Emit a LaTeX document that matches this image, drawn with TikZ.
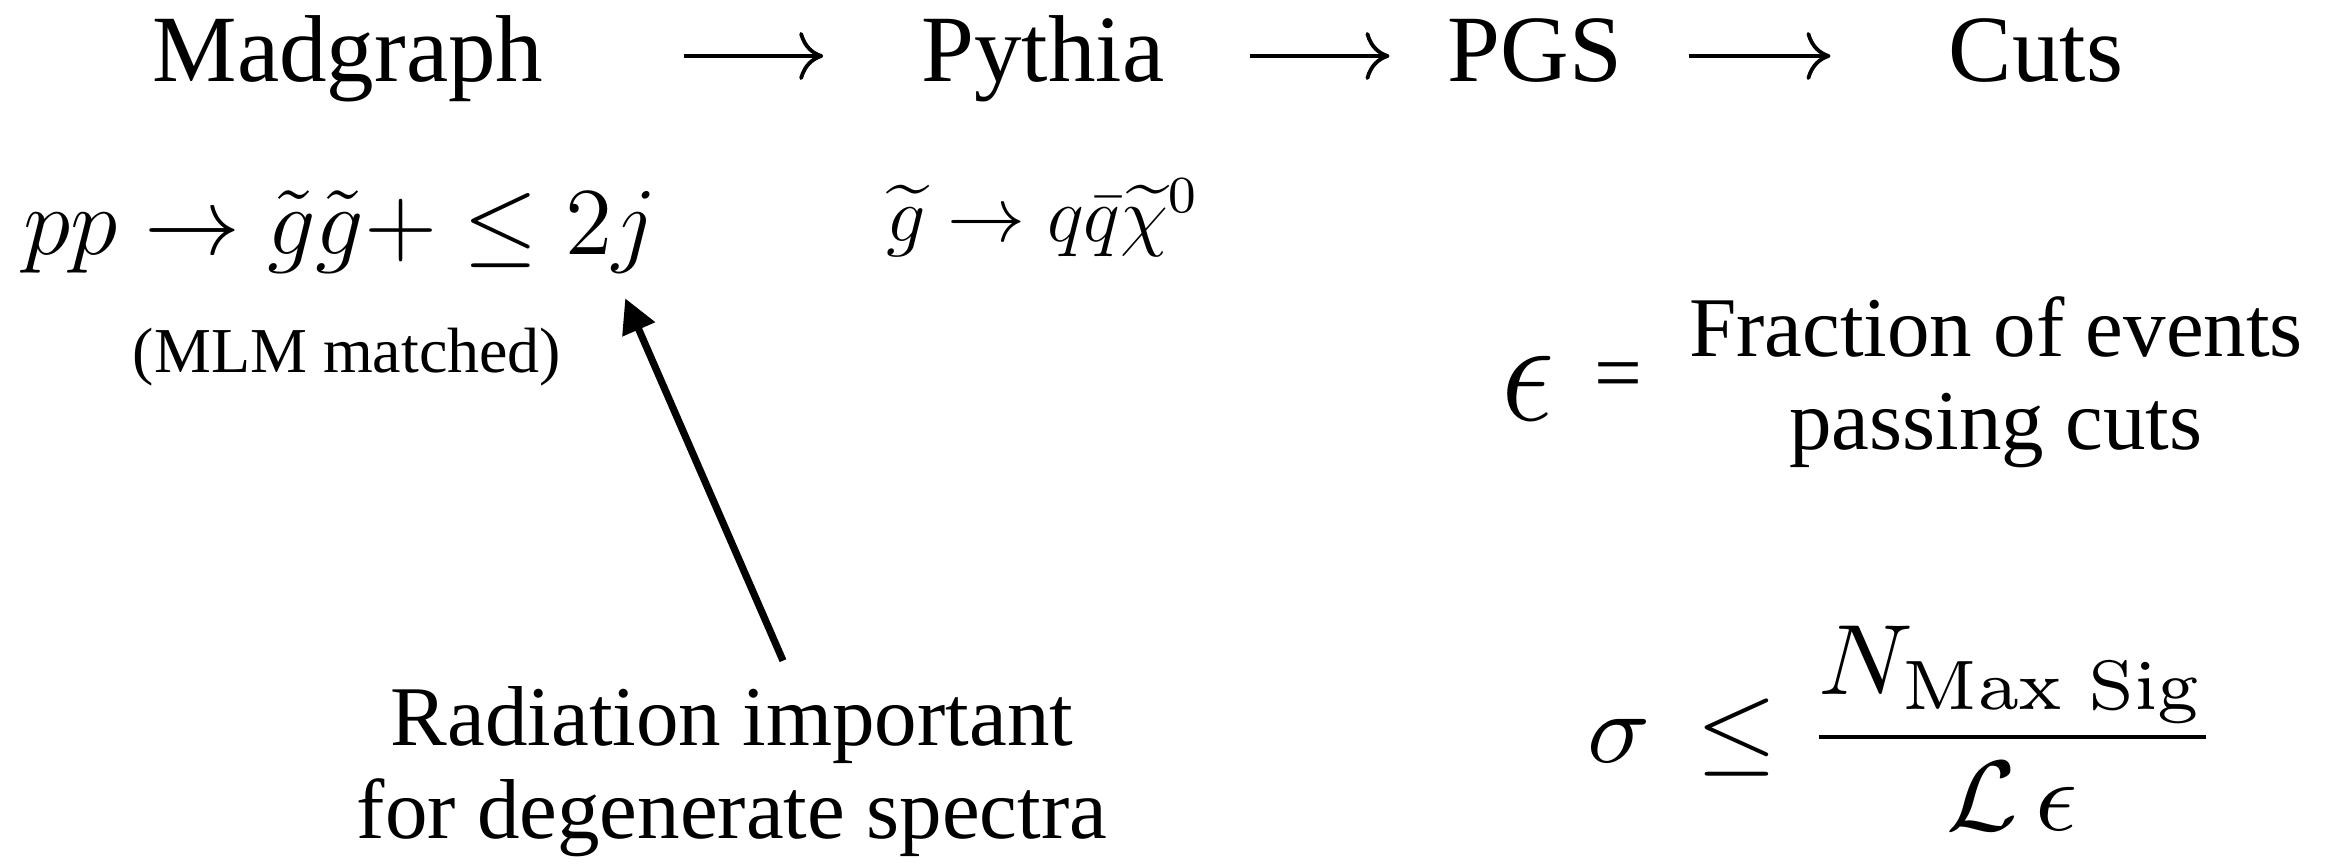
\documentclass[tikz,border=0pt]{standalone}
\usepackage{amsmath}
\usepackage[no-math]{fontspec}
\setmainfont{Liberation Serif}
\newfontfamily\tms{Liberation Serif}
\usetikzlibrary{arrows.meta}
\tikzset{
  title/.style={font=\tms\fontsize{47.5}{57}\selectfont, inner sep=0pt, anchor=base},
  flow/.style={line width=1.9pt, -{To[length=12pt,width=24pt]}},
  pointer/.style={line width=3.6pt, -{Triangle[length=17pt,width=17pt]}},
  note/.style={font=\tms\fontsize{42.5}{46.5}\selectfont, inner sep=0pt, anchor=base, align=center},
  mathtext/.style={inner sep=0pt, font=\fontsize{12}{14}\selectfont},
}
\begin{document}
\begin{tikzpicture}[x=0.5pt,y=-0.5pt]
\fill[white] (0,0) rectangle (2335,864);
\useasboundingbox (0,0) rectangle (2335,864);
\node[title] (mad) at (348,81) {Madgraph};
\node[title] (py) at (1043,81) {Pythia};
\node[title] (pgs) at (1535,81) {PGS};
\node[title] (cuts) at (2036,81) {Cuts};
\draw[flow, shorten <=70pt, shorten >=49pt] ([yshift=12.5pt]mad.base east) -- ([yshift=12.5pt]py.base west);
\draw[flow, shorten <=42.75pt, shorten >=29pt] ([yshift=12.5pt]py.base east) -- ([yshift=12.5pt]pgs.base west);
\draw[flow, shorten <=33pt, shorten >=59pt] ([yshift=12.5pt]pgs.base east) -- ([yshift=12.5pt]cuts.base west);
\node[mathtext, anchor=base west, scale=4] (pp) at (22,254) {$pp \to \tilde{g}\tilde{g}+ \leq 2j$};
\node[mathtext, anchor=base west, scale=3.25] (dec) at (885,241) {$\widetilde{g} \to q\bar{q}\widetilde{\chi}^0$};
\node[anchor=base, inner sep=0pt, font=\tms\fontsize{32}{38}\selectfont] (mlm) at (347,372) {(MLM matched)};
\node[note] (rad) at (732,838) {Radiation important\\for degenerate spectra};
\node[note] (frac) at (1996,449) {Fraction of events\\passing cuts};
\node[mathtext, anchor=base west, xscale=5.6, yscale=6.2] (eps) at (1499,420) {$\epsilon$};
\node[anchor=center, inner sep=0pt, font=\tms\fontsize{42.5}{50}\selectfont] (eq) at (1618,382) {=};
\node[inner sep=0pt, font=\fontsize{10}{12}\selectfont, anchor=base west, xscale=5.2, yscale=5] (sig) at (1585,762) {$\sigma \mskip3mu \leq \dfrac{N_{\mathrm{Max\ Sig}}}{\mathcal{L}\,\epsilon}$};
\draw[pointer] ([xshift=25.5pt,yshift=12.5pt]rad.north) -- ([xshift=-16.5pt,yshift=-12pt]pp.south east);
\end{tikzpicture}
\end{document}
